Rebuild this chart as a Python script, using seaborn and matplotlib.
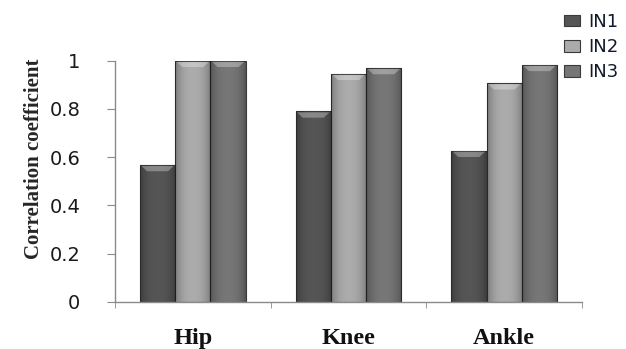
import matplotlib
matplotlib.use("Agg")
import matplotlib.pyplot as plt
import seaborn as sns
import numpy as np
import pandas as pd

joints = ["Hip", "Knee", "Ankle"]
series = ["IN1", "IN2", "IN3"]
in1 = [0.568, 0.79, 0.627]
in2 = [1.0, 0.946, 0.907]
in3 = [1.0, 0.97, 0.983]

df = pd.DataFrame({
    "Joint": joints * 3,
    "Series": [s for s in series for _ in joints],
    "Value": in1 + in2 + in3,
})

sns.set_style("white")
palette = {"IN1": "#555555", "IN2": "#ababab", "IN3": "#767676"}

fig = plt.figure(figsize=(6.26, 3.49), dpi=100)
ax = fig.add_axes([0.1837, 0.1347, 0.7460, 0.6913])

sns.barplot(data=df, x="Joint", y="Value", hue="Series", order=joints,
            hue_order=series, palette=palette, width=0.68, saturation=1,
            edgecolor="#3a3a3a", linewidth=0.8, ax=ax, legend=True)

# soft cylindrical shading and a light bevel on top of each bar
shade = np.abs(np.linspace(-1, 1, 64)) ** 2.5
shade_rgba = np.zeros((1, 64, 4))
shade_rgba[..., 3] = 0.28 * shade
for p in list(ax.patches):
    h = p.get_height()
    if h <= 0:
        continue
    x0, w = p.get_x(), p.get_width()
    im = ax.imshow(shade_rgba, extent=(x0, x0 + w, 0, h), aspect="auto",
                   interpolation="bilinear", zorder=2.5)
    im.set_clip_path(p)
    ax.fill([x0 + w * 0.04, x0 + w * 0.96, x0 + w * 0.80, x0 + w * 0.20],
            [h - 0.004, h - 0.004, h - 0.026, h - 0.026],
            color="white", alpha=0.30, linewidth=0, zorder=3)

ax.set_xlim(-0.5, 2.5)
ax.set_ylim(0, 1)
ax.set_yticks([0, 0.2, 0.4, 0.6, 0.8, 1.0])
ax.set_yticklabels(["0", "0.2", "0.4", "0.6", "0.8", "1"],
                   fontfamily="DejaVu Sans", fontsize=14, color="#1a1a1a")
ax.set_xticks(range(3))
ax.set_xticklabels(joints, fontfamily="Liberation Serif", fontweight="bold",
                   fontsize=17.5, color="#111111")
ax.set_xticks([-0.5, 0.5, 1.5, 2.5], minor=True)
ax.tick_params(axis="x", which="major", length=0, pad=19)
ax.tick_params(axis="x", which="minor", length=4, color="#8a8a8a",
               direction="out", bottom=True)
ax.tick_params(axis="y", length=6, color="#8a8a8a", direction="out",
               left=True, pad=19)

ax.set_xlabel("")
ax.set_ylabel("Correlation coefficient", fontfamily="Liberation Serif",
              fontweight="bold", fontsize=15)
ax.yaxis.set_label_coords(-0.153, 0.592)

for side in ("top", "right"):
    ax.spines[side].set_visible(False)
for side in ("left", "bottom"):
    ax.spines[side].set_color("#8a8a8a")
    ax.spines[side].set_linewidth(1.0)

leg = ax.legend(loc="upper left", bbox_to_anchor=(0.946, 1.228),
                frameon=False, handlelength=0.9, handleheight=0.6,
                labelspacing=0.4, handletextpad=0.45, borderaxespad=0,
                prop={"family": "DejaVu Sans", "size": 13})
for t in leg.get_texts():
    t.set_color("#101a2c")

fig.savefig("out.png", dpi=100)
